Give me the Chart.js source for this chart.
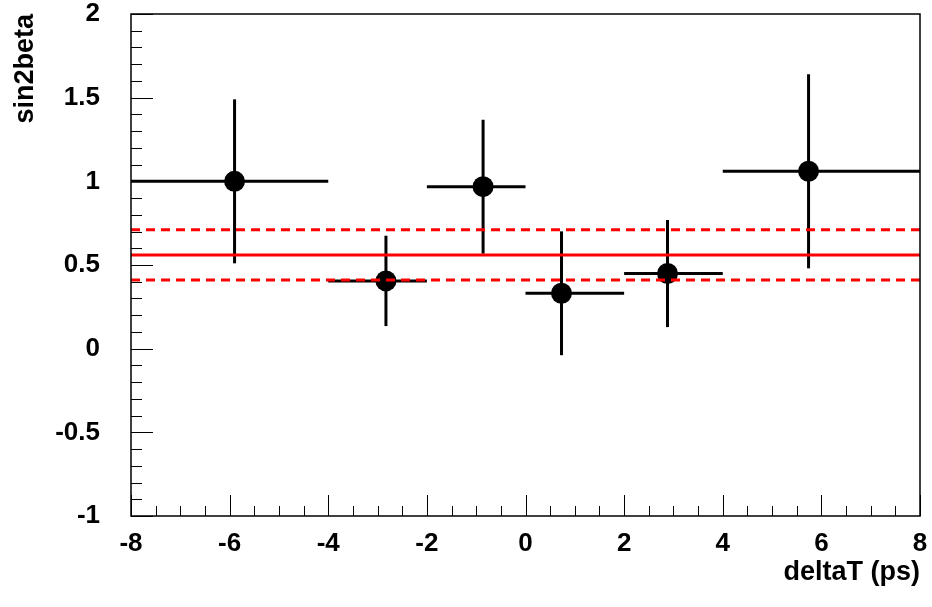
<!DOCTYPE html>
<html>
<head>
<meta charset="utf-8">
<script src="https://cdn.jsdelivr.net/npm/chart.js@4.4.0/dist/chart.umd.min.js"></script>
<style>
  body { margin: 0; background: #fff; }
  #wrap { width: 932px; height: 607px; }
</style>
</head>
<body>
<div id="wrap"><canvas id="chart" width="932" height="607"></canvas></div>
<script>
// measured points (deltaT bins) and sin2beta values
const xVals = [-5.90, -2.83, -0.86, 0.73, 2.88, 5.74];
const xLow = [-8, -4, -2, 0, 2, 4];
const xHigh = [-4, -2, 0, 2, 4, 8];
const yVals = [1.00, 0.405, 0.968, 0.331, 0.449, 1.06];
const yErr = [0.49, 0.27, 0.40, 0.37, 0.32, 0.58];

// fitted value with +-1 sigma band
const fitValue = 0.56;
const fitErr = 0.15;

const xTickLabels = ["-8", "-6", "-4", "-2", "0", "2", "4", "6", "8"];
const yTickLabels = ["-1", "-0.5", "0", "0.5", "1", "1.5", "2"];

const fontFamily = "'Liberation Sans', Arial, Helvetica, sans-serif";

let datasets = [];

// red fit lines first so they end up on top
datasets.push({
    data: [{ x: -8, y: fitValue }, { x: 8, y: fitValue }],
    borderColor: "#ff0000",
    borderWidth: 3,
    pointRadius: 0,
    showLine: true,
    order: 0,
});
[fitValue + fitErr, fitValue - fitErr].forEach((v) => {
    datasets.push({
        data: [{ x: -8, y: v }, { x: 8, y: v }],
        borderColor: "#ff0000",
        borderWidth: 3,
        borderDash: [9, 6],
        pointRadius: 0,
        showLine: true,
        order: 0,
    });
});

// the markers
datasets.push({
    data: xVals.map((x, i) => ({ x: x, y: yVals[i] })),
    backgroundColor: "#000",
    borderColor: "#000",
    pointRadius: 10.5,
    pointBorderWidth: 0,
    showLine: false,
    order: 1,
});

// error bars, one segment each
for (let i = 0; i < xVals.length; i++) {
    datasets.push({
        data: [{ x: xLow[i], y: yVals[i] }, { x: xHigh[i], y: yVals[i] }],
        borderColor: "#000",
        borderWidth: 3,
        pointRadius: 0,
        showLine: true,
        order: 2,
    });
    datasets.push({
        data: [{ x: xVals[i], y: yVals[i] - yErr[i] }, { x: xVals[i], y: yVals[i] + yErr[i] }],
        borderColor: "#000",
        borderWidth: 3,
        pointRadius: 0,
        showLine: true,
        order: 2,
    });
}

// ROOT style frame with inward ticks
const framePlugin = {
    id: "frame",
    afterDraw(chart) {
        const ctx = chart.ctx;
        const area = chart.chartArea;
        const xs = chart.scales.x;
        const ys = chart.scales.y;
        ctx.save();
        ctx.strokeStyle = "#000";
        ctx.lineWidth = 1;
        // y ticks
        for (let k = 0; k <= 30; k++) {
            let v = -1 + k * 0.1;
            let py = Math.round(ys.getPixelForValue(v)) + 0.5;
            let len = k % 5 == 0 ? 22 : 11;
            ctx.beginPath();
            ctx.moveTo(area.left, py);
            ctx.lineTo(area.left + len, py);
            ctx.stroke();
        }
        // x ticks
        for (let k = 0; k <= 32; k++) {
            let v = -8 + k * 0.5;
            let px = Math.round(xs.getPixelForValue(v)) + 0.5;
            let len = k % 4 == 0 ? 21 : 10;
            ctx.beginPath();
            ctx.moveTo(px, area.bottom);
            ctx.lineTo(px, area.bottom - len);
            ctx.stroke();
        }
        ctx.lineWidth = 1.5;
        ctx.strokeRect(area.left, area.top, area.right - area.left, area.bottom - area.top);
        ctx.restore();
    },
};

new Chart(document.getElementById("chart"), {
    type: "scatter",
    data: { datasets: datasets },
    options: {
        responsive: false,
        animation: false,
        layout: { padding: { top: 14, right: 12, left: 0, bottom: 0 } },
        plugins: {
            legend: { display: false },
            tooltip: { enabled: false },
        },
        scales: {
            x: {
                type: "linear",
                min: -8,
                max: 8,
                afterFit: (scale) => {
                    scale.height = 91;
                    scale.paddingLeft = 0;
                    scale.paddingRight = 0;
                },
                afterBuildTicks: (scale) => {
                    scale.ticks = xTickLabels.map((t) => ({ value: Number(t) }));
                },
                ticks: {
                    autoSkip: false,
                    maxRotation: 0,
                    padding: 12,
                    color: "#000",
                    font: { family: fontFamily, size: 26, weight: "bold" },
                    callback: (value, index) => xTickLabels[index],
                },
                grid: { display: true, drawOnChartArea: false, drawTicks: false },
                border: { display: false },
                title: {
                    display: true,
                    text: "deltaT (ps)",
                    align: "end",
                    color: "#000",
                    font: { family: fontFamily, size: 27, weight: "bold" },
                    padding: { top: 0, bottom: 18 },
                },
            },
            y: {
                type: "linear",
                min: -1,
                max: 2,
                afterFit: (scale) => {
                    scale.width = 131;
                    scale.paddingTop = 0;
                    scale.paddingBottom = 0;
                },
                afterBuildTicks: (scale) => {
                    scale.ticks = yTickLabels.map((t) => ({ value: Number(t) }));
                },
                ticks: {
                    autoSkip: false,
                    padding: 31,
                    color: "#000",
                    font: { family: fontFamily, size: 26, weight: "bold" },
                    callback: (value, index) => yTickLabels[index],
                },
                grid: { display: true, drawOnChartArea: false, drawTicks: false },
                border: { display: false },
                title: {
                    display: true,
                    text: "sin2beta",
                    align: "end",
                    color: "#000",
                    font: { family: fontFamily, size: 27, weight: "bold" },
                    padding: { top: 9, bottom: 0 },
                },
            },
        },
    },
    plugins: [framePlugin],
});
</script>
</body>
</html>
